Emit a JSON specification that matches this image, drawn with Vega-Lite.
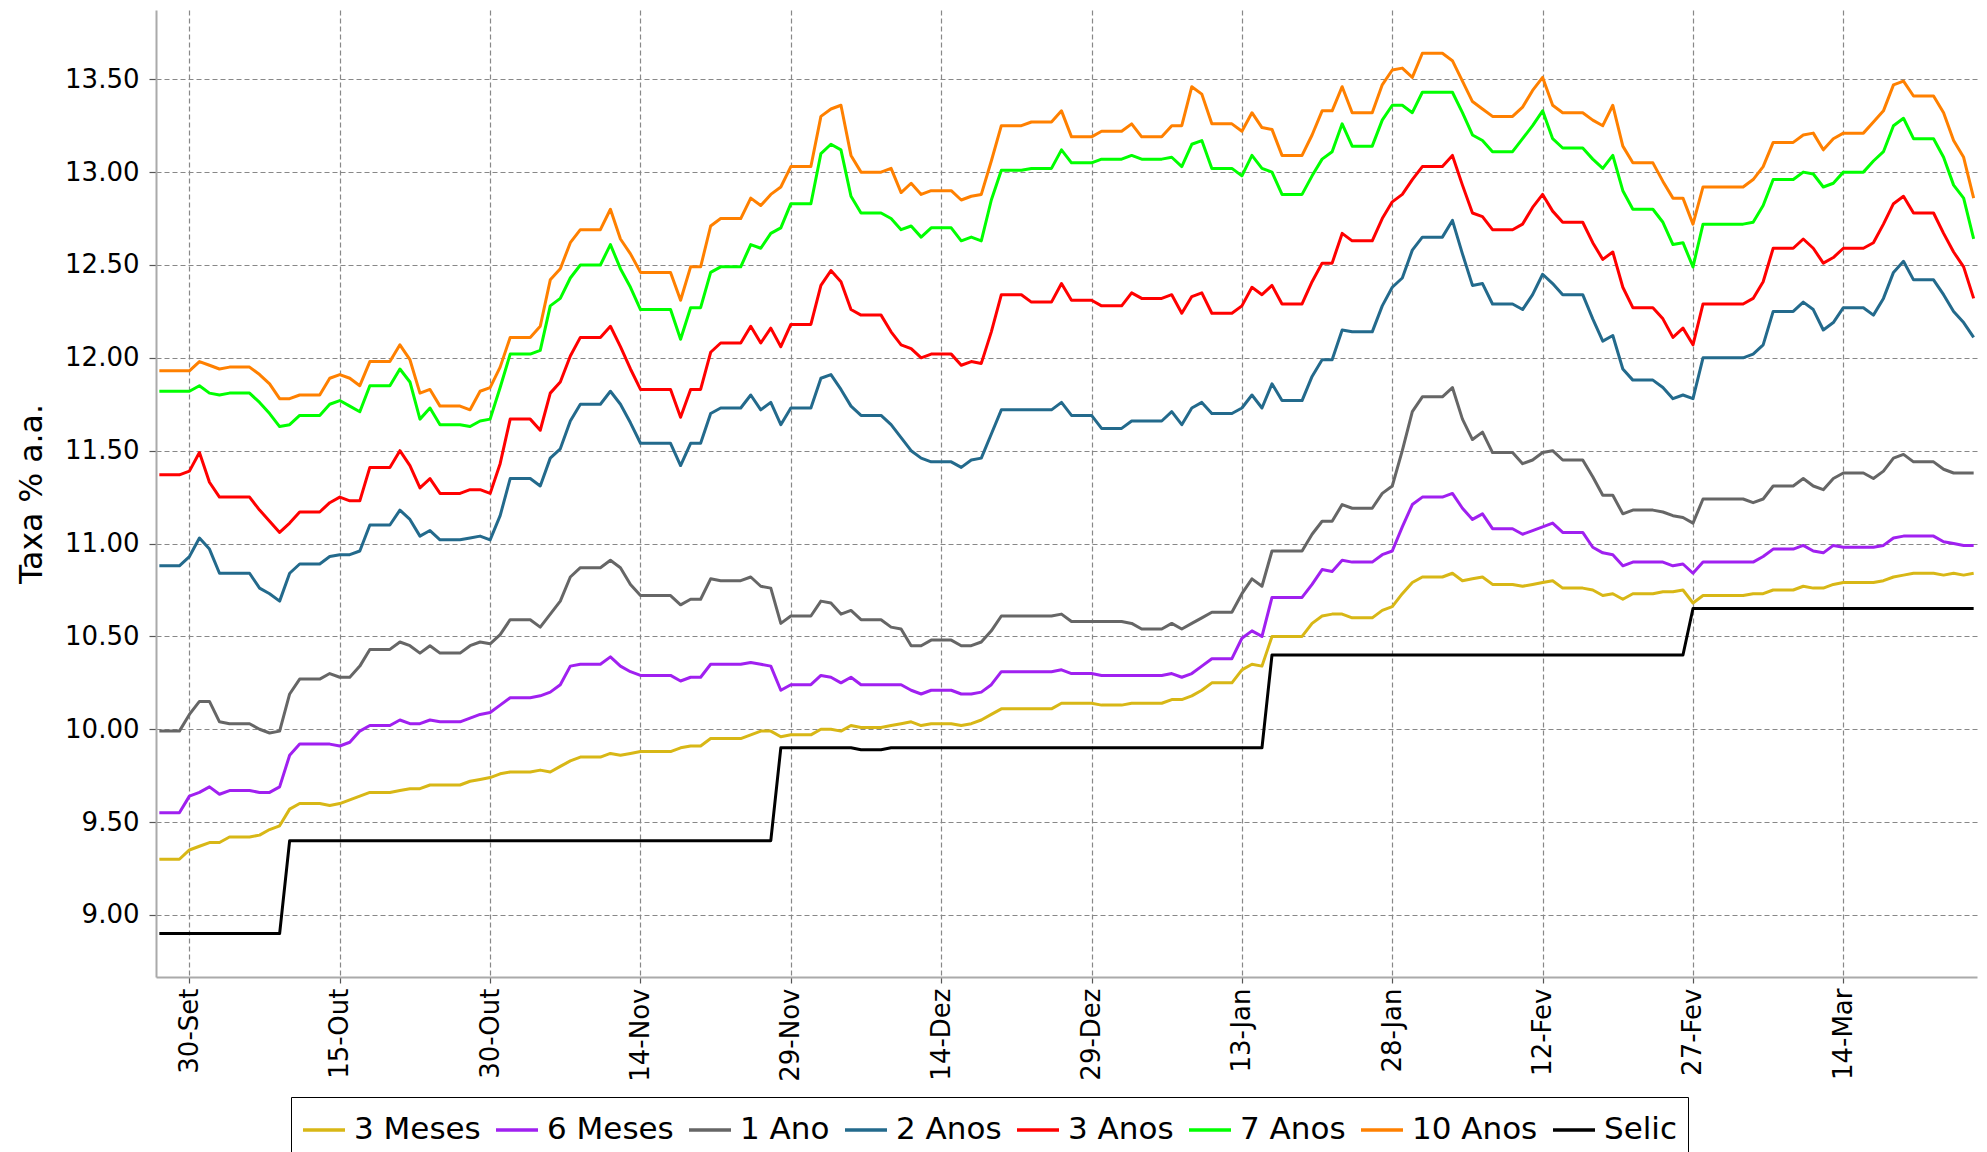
{
"$schema":"https://vega.github.io/schema/vega-lite/v6.json",
"width":1821,"height":967,
"autosize":{"type":"none"},
"padding":{"left":156,"top":10,"right":10,"bottom":175},
"background":"white",
"config":{"font":"DejaVu Sans","view":{"stroke":null}},
"data":{"values":[
{"d":"2013-09-27","3M":9.30,"6M":9.55,"1A":9.99,"2A":10.88,"3A":11.37,"7A":11.82,"10A":11.93,"Selic":8.90},
{"d":"2013-09-28","3M":9.30,"6M":9.55,"1A":9.99,"2A":10.88,"3A":11.37,"7A":11.82,"10A":11.93,"Selic":8.90},
{"d":"2013-09-29","3M":9.30,"6M":9.55,"1A":9.99,"2A":10.88,"3A":11.37,"7A":11.82,"10A":11.93,"Selic":8.90},
{"d":"2013-09-30","3M":9.35,"6M":9.64,"1A":10.08,"2A":10.93,"3A":11.39,"7A":11.82,"10A":11.93,"Selic":8.90},
{"d":"2013-10-01","3M":9.37,"6M":9.66,"1A":10.15,"2A":11.03,"3A":11.49,"7A":11.85,"10A":11.98,"Selic":8.90},
{"d":"2013-10-02","3M":9.39,"6M":9.69,"1A":10.15,"2A":10.97,"3A":11.33,"7A":11.81,"10A":11.96,"Selic":8.90},
{"d":"2013-10-03","3M":9.39,"6M":9.65,"1A":10.04,"2A":10.84,"3A":11.25,"7A":11.80,"10A":11.94,"Selic":8.90},
{"d":"2013-10-04","3M":9.42,"6M":9.67,"1A":10.03,"2A":10.84,"3A":11.25,"7A":11.81,"10A":11.95,"Selic":8.90},
{"d":"2013-10-05","3M":9.42,"6M":9.67,"1A":10.03,"2A":10.84,"3A":11.25,"7A":11.81,"10A":11.95,"Selic":8.90},
{"d":"2013-10-06","3M":9.42,"6M":9.67,"1A":10.03,"2A":10.84,"3A":11.25,"7A":11.81,"10A":11.95,"Selic":8.90},
{"d":"2013-10-07","3M":9.43,"6M":9.66,"1A":10.00,"2A":10.76,"3A":11.18,"7A":11.76,"10A":11.91,"Selic":8.90},
{"d":"2013-10-08","3M":9.46,"6M":9.66,"1A":9.98,"2A":10.73,"3A":11.12,"7A":11.70,"10A":11.86,"Selic":8.90},
{"d":"2013-10-09","3M":9.48,"6M":9.69,"1A":9.99,"2A":10.69,"3A":11.06,"7A":11.63,"10A":11.78,"Selic":8.90},
{"d":"2013-10-10","3M":9.57,"6M":9.86,"1A":10.19,"2A":10.84,"3A":11.11,"7A":11.64,"10A":11.78,"Selic":9.40},
{"d":"2013-10-11","3M":9.60,"6M":9.92,"1A":10.27,"2A":10.89,"3A":11.17,"7A":11.69,"10A":11.80,"Selic":9.40},
{"d":"2013-10-12","3M":9.60,"6M":9.92,"1A":10.27,"2A":10.89,"3A":11.17,"7A":11.69,"10A":11.80,"Selic":9.40},
{"d":"2013-10-13","3M":9.60,"6M":9.92,"1A":10.27,"2A":10.89,"3A":11.17,"7A":11.69,"10A":11.80,"Selic":9.40},
{"d":"2013-10-14","3M":9.59,"6M":9.92,"1A":10.30,"2A":10.93,"3A":11.22,"7A":11.75,"10A":11.89,"Selic":9.40},
{"d":"2013-10-15","3M":9.60,"6M":9.91,"1A":10.28,"2A":10.94,"3A":11.25,"7A":11.77,"10A":11.91,"Selic":9.40},
{"d":"2013-10-16","3M":9.62,"6M":9.93,"1A":10.28,"2A":10.94,"3A":11.23,"7A":11.74,"10A":11.89,"Selic":9.40},
{"d":"2013-10-17","3M":9.64,"6M":9.99,"1A":10.34,"2A":10.96,"3A":11.23,"7A":11.71,"10A":11.85,"Selic":9.40},
{"d":"2013-10-18","3M":9.66,"6M":10.02,"1A":10.43,"2A":11.10,"3A":11.41,"7A":11.85,"10A":11.98,"Selic":9.40},
{"d":"2013-10-19","3M":9.66,"6M":10.02,"1A":10.43,"2A":11.10,"3A":11.41,"7A":11.85,"10A":11.98,"Selic":9.40},
{"d":"2013-10-20","3M":9.66,"6M":10.02,"1A":10.43,"2A":11.10,"3A":11.41,"7A":11.85,"10A":11.98,"Selic":9.40},
{"d":"2013-10-21","3M":9.67,"6M":10.05,"1A":10.47,"2A":11.18,"3A":11.50,"7A":11.94,"10A":12.07,"Selic":9.40},
{"d":"2013-10-22","3M":9.68,"6M":10.03,"1A":10.45,"2A":11.13,"3A":11.42,"7A":11.87,"10A":11.99,"Selic":9.40},
{"d":"2013-10-23","3M":9.68,"6M":10.03,"1A":10.41,"2A":11.04,"3A":11.30,"7A":11.67,"10A":11.81,"Selic":9.40},
{"d":"2013-10-24","3M":9.70,"6M":10.05,"1A":10.45,"2A":11.07,"3A":11.35,"7A":11.73,"10A":11.83,"Selic":9.40},
{"d":"2013-10-25","3M":9.70,"6M":10.04,"1A":10.41,"2A":11.02,"3A":11.27,"7A":11.64,"10A":11.74,"Selic":9.40},
{"d":"2013-10-26","3M":9.70,"6M":10.04,"1A":10.41,"2A":11.02,"3A":11.27,"7A":11.64,"10A":11.74,"Selic":9.40},
{"d":"2013-10-27","3M":9.70,"6M":10.04,"1A":10.41,"2A":11.02,"3A":11.27,"7A":11.64,"10A":11.74,"Selic":9.40},
{"d":"2013-10-28","3M":9.72,"6M":10.06,"1A":10.45,"2A":11.03,"3A":11.29,"7A":11.63,"10A":11.72,"Selic":9.40},
{"d":"2013-10-29","3M":9.73,"6M":10.08,"1A":10.47,"2A":11.04,"3A":11.29,"7A":11.66,"10A":11.82,"Selic":9.40},
{"d":"2013-10-30","3M":9.74,"6M":10.09,"1A":10.46,"2A":11.02,"3A":11.27,"7A":11.67,"10A":11.84,"Selic":9.40},
{"d":"2013-10-31","3M":9.76,"6M":10.13,"1A":10.51,"2A":11.15,"3A":11.43,"7A":11.84,"10A":11.95,"Selic":9.40},
{"d":"2013-11-01","3M":9.77,"6M":10.17,"1A":10.59,"2A":11.35,"3A":11.67,"7A":12.02,"10A":12.11,"Selic":9.40},
{"d":"2013-11-02","3M":9.77,"6M":10.17,"1A":10.59,"2A":11.35,"3A":11.67,"7A":12.02,"10A":12.11,"Selic":9.40},
{"d":"2013-11-03","3M":9.77,"6M":10.17,"1A":10.59,"2A":11.35,"3A":11.67,"7A":12.02,"10A":12.11,"Selic":9.40},
{"d":"2013-11-04","3M":9.78,"6M":10.18,"1A":10.55,"2A":11.31,"3A":11.61,"7A":12.04,"10A":12.17,"Selic":9.40},
{"d":"2013-11-05","3M":9.77,"6M":10.20,"1A":10.62,"2A":11.46,"3A":11.81,"7A":12.28,"10A":12.42,"Selic":9.40},
{"d":"2013-11-06","3M":9.80,"6M":10.24,"1A":10.69,"2A":11.51,"3A":11.87,"7A":12.32,"10A":12.48,"Selic":9.40},
{"d":"2013-11-07","3M":9.83,"6M":10.34,"1A":10.82,"2A":11.66,"3A":12.01,"7A":12.43,"10A":12.62,"Selic":9.40},
{"d":"2013-11-08","3M":9.85,"6M":10.35,"1A":10.87,"2A":11.75,"3A":12.11,"7A":12.50,"10A":12.69,"Selic":9.40},
{"d":"2013-11-09","3M":9.85,"6M":10.35,"1A":10.87,"2A":11.75,"3A":12.11,"7A":12.50,"10A":12.69,"Selic":9.40},
{"d":"2013-11-10","3M":9.85,"6M":10.35,"1A":10.87,"2A":11.75,"3A":12.11,"7A":12.50,"10A":12.69,"Selic":9.40},
{"d":"2013-11-11","3M":9.87,"6M":10.39,"1A":10.91,"2A":11.82,"3A":12.17,"7A":12.61,"10A":12.80,"Selic":9.40},
{"d":"2013-11-12","3M":9.86,"6M":10.34,"1A":10.87,"2A":11.75,"3A":12.06,"7A":12.48,"10A":12.64,"Selic":9.40},
{"d":"2013-11-13","3M":9.87,"6M":10.31,"1A":10.78,"2A":11.65,"3A":11.94,"7A":12.38,"10A":12.56,"Selic":9.40},
{"d":"2013-11-14","3M":9.88,"6M":10.29,"1A":10.72,"2A":11.54,"3A":11.83,"7A":12.26,"10A":12.46,"Selic":9.40},
{"d":"2013-11-15","3M":9.88,"6M":10.29,"1A":10.72,"2A":11.54,"3A":11.83,"7A":12.26,"10A":12.46,"Selic":9.40},
{"d":"2013-11-16","3M":9.88,"6M":10.29,"1A":10.72,"2A":11.54,"3A":11.83,"7A":12.26,"10A":12.46,"Selic":9.40},
{"d":"2013-11-17","3M":9.88,"6M":10.29,"1A":10.72,"2A":11.54,"3A":11.83,"7A":12.26,"10A":12.46,"Selic":9.40},
{"d":"2013-11-18","3M":9.90,"6M":10.26,"1A":10.67,"2A":11.42,"3A":11.68,"7A":12.10,"10A":12.31,"Selic":9.40},
{"d":"2013-11-19","3M":9.91,"6M":10.28,"1A":10.70,"2A":11.54,"3A":11.83,"7A":12.27,"10A":12.49,"Selic":9.40},
{"d":"2013-11-20","3M":9.91,"6M":10.28,"1A":10.70,"2A":11.54,"3A":11.83,"7A":12.27,"10A":12.49,"Selic":9.40},
{"d":"2013-11-21","3M":9.95,"6M":10.35,"1A":10.81,"2A":11.70,"3A":12.03,"7A":12.46,"10A":12.71,"Selic":9.40},
{"d":"2013-11-22","3M":9.95,"6M":10.35,"1A":10.80,"2A":11.73,"3A":12.08,"7A":12.49,"10A":12.75,"Selic":9.40},
{"d":"2013-11-23","3M":9.95,"6M":10.35,"1A":10.80,"2A":11.73,"3A":12.08,"7A":12.49,"10A":12.75,"Selic":9.40},
{"d":"2013-11-24","3M":9.95,"6M":10.35,"1A":10.80,"2A":11.73,"3A":12.08,"7A":12.49,"10A":12.75,"Selic":9.40},
{"d":"2013-11-25","3M":9.97,"6M":10.36,"1A":10.82,"2A":11.80,"3A":12.17,"7A":12.61,"10A":12.86,"Selic":9.40},
{"d":"2013-11-26","3M":9.99,"6M":10.35,"1A":10.77,"2A":11.72,"3A":12.08,"7A":12.59,"10A":12.82,"Selic":9.40},
{"d":"2013-11-27","3M":9.99,"6M":10.34,"1A":10.76,"2A":11.76,"3A":12.16,"7A":12.67,"10A":12.88,"Selic":9.40},
{"d":"2013-11-28","3M":9.96,"6M":10.21,"1A":10.57,"2A":11.64,"3A":12.06,"7A":12.70,"10A":12.92,"Selic":9.90},
{"d":"2013-11-29","3M":9.97,"6M":10.24,"1A":10.61,"2A":11.73,"3A":12.18,"7A":12.83,"10A":13.03,"Selic":9.90},
{"d":"2013-11-30","3M":9.97,"6M":10.24,"1A":10.61,"2A":11.73,"3A":12.18,"7A":12.83,"10A":13.03,"Selic":9.90},
{"d":"2013-12-01","3M":9.97,"6M":10.24,"1A":10.61,"2A":11.73,"3A":12.18,"7A":12.83,"10A":13.03,"Selic":9.90},
{"d":"2013-12-02","3M":10.00,"6M":10.29,"1A":10.69,"2A":11.89,"3A":12.39,"7A":13.10,"10A":13.30,"Selic":9.90},
{"d":"2013-12-03","3M":10.00,"6M":10.28,"1A":10.68,"2A":11.91,"3A":12.47,"7A":13.15,"10A":13.34,"Selic":9.90},
{"d":"2013-12-04","3M":9.99,"6M":10.25,"1A":10.62,"2A":11.83,"3A":12.41,"7A":13.12,"10A":13.36,"Selic":9.90},
{"d":"2013-12-05","3M":10.02,"6M":10.28,"1A":10.64,"2A":11.74,"3A":12.26,"7A":12.87,"10A":13.09,"Selic":9.90},
{"d":"2013-12-06","3M":10.01,"6M":10.24,"1A":10.59,"2A":11.69,"3A":12.23,"7A":12.78,"10A":13.00,"Selic":9.89},
{"d":"2013-12-07","3M":10.01,"6M":10.24,"1A":10.59,"2A":11.69,"3A":12.23,"7A":12.78,"10A":13.00,"Selic":9.89},
{"d":"2013-12-08","3M":10.01,"6M":10.24,"1A":10.59,"2A":11.69,"3A":12.23,"7A":12.78,"10A":13.00,"Selic":9.89},
{"d":"2013-12-09","3M":10.02,"6M":10.24,"1A":10.55,"2A":11.64,"3A":12.14,"7A":12.75,"10A":13.02,"Selic":9.90},
{"d":"2013-12-10","3M":10.03,"6M":10.24,"1A":10.54,"2A":11.57,"3A":12.07,"7A":12.69,"10A":12.89,"Selic":9.90},
{"d":"2013-12-11","3M":10.04,"6M":10.21,"1A":10.45,"2A":11.50,"3A":12.05,"7A":12.71,"10A":12.94,"Selic":9.90},
{"d":"2013-12-12","3M":10.02,"6M":10.19,"1A":10.45,"2A":11.46,"3A":12.00,"7A":12.65,"10A":12.88,"Selic":9.90},
{"d":"2013-12-13","3M":10.03,"6M":10.21,"1A":10.48,"2A":11.44,"3A":12.02,"7A":12.70,"10A":12.90,"Selic":9.90},
{"d":"2013-12-14","3M":10.03,"6M":10.21,"1A":10.48,"2A":11.44,"3A":12.02,"7A":12.70,"10A":12.90,"Selic":9.90},
{"d":"2013-12-15","3M":10.03,"6M":10.21,"1A":10.48,"2A":11.44,"3A":12.02,"7A":12.70,"10A":12.90,"Selic":9.90},
{"d":"2013-12-16","3M":10.02,"6M":10.19,"1A":10.45,"2A":11.41,"3A":11.96,"7A":12.63,"10A":12.85,"Selic":9.90},
{"d":"2013-12-17","3M":10.03,"6M":10.19,"1A":10.45,"2A":11.45,"3A":11.98,"7A":12.65,"10A":12.87,"Selic":9.90},
{"d":"2013-12-18","3M":10.05,"6M":10.20,"1A":10.47,"2A":11.46,"3A":11.97,"7A":12.63,"10A":12.88,"Selic":9.90},
{"d":"2013-12-19","3M":10.08,"6M":10.24,"1A":10.53,"2A":11.59,"3A":12.14,"7A":12.85,"10A":13.06,"Selic":9.90},
{"d":"2013-12-20","3M":10.11,"6M":10.31,"1A":10.61,"2A":11.72,"3A":12.34,"7A":13.01,"10A":13.25,"Selic":9.90},
{"d":"2013-12-21","3M":10.11,"6M":10.31,"1A":10.61,"2A":11.72,"3A":12.34,"7A":13.01,"10A":13.25,"Selic":9.90},
{"d":"2013-12-22","3M":10.11,"6M":10.31,"1A":10.61,"2A":11.72,"3A":12.34,"7A":13.01,"10A":13.25,"Selic":9.90},
{"d":"2013-12-23","3M":10.11,"6M":10.31,"1A":10.61,"2A":11.72,"3A":12.30,"7A":13.02,"10A":13.27,"Selic":9.90},
{"d":"2013-12-24","3M":10.11,"6M":10.31,"1A":10.61,"2A":11.72,"3A":12.30,"7A":13.02,"10A":13.27,"Selic":9.90},
{"d":"2013-12-25","3M":10.11,"6M":10.31,"1A":10.61,"2A":11.72,"3A":12.30,"7A":13.02,"10A":13.27,"Selic":9.90},
{"d":"2013-12-26","3M":10.14,"6M":10.32,"1A":10.62,"2A":11.76,"3A":12.40,"7A":13.12,"10A":13.33,"Selic":9.90},
{"d":"2013-12-27","3M":10.14,"6M":10.30,"1A":10.58,"2A":11.69,"3A":12.31,"7A":13.05,"10A":13.19,"Selic":9.90},
{"d":"2013-12-28","3M":10.14,"6M":10.30,"1A":10.58,"2A":11.69,"3A":12.31,"7A":13.05,"10A":13.19,"Selic":9.90},
{"d":"2013-12-29","3M":10.14,"6M":10.30,"1A":10.58,"2A":11.69,"3A":12.31,"7A":13.05,"10A":13.19,"Selic":9.90},
{"d":"2013-12-30","3M":10.13,"6M":10.29,"1A":10.58,"2A":11.62,"3A":12.28,"7A":13.07,"10A":13.22,"Selic":9.90},
{"d":"2013-12-31","3M":10.13,"6M":10.29,"1A":10.58,"2A":11.62,"3A":12.28,"7A":13.07,"10A":13.22,"Selic":9.90},
{"d":"2014-01-01","3M":10.13,"6M":10.29,"1A":10.58,"2A":11.62,"3A":12.28,"7A":13.07,"10A":13.22,"Selic":9.90},
{"d":"2014-01-02","3M":10.14,"6M":10.29,"1A":10.57,"2A":11.66,"3A":12.35,"7A":13.09,"10A":13.26,"Selic":9.90},
{"d":"2014-01-03","3M":10.14,"6M":10.29,"1A":10.54,"2A":11.66,"3A":12.32,"7A":13.07,"10A":13.19,"Selic":9.90},
{"d":"2014-01-04","3M":10.14,"6M":10.29,"1A":10.54,"2A":11.66,"3A":12.32,"7A":13.07,"10A":13.19,"Selic":9.90},
{"d":"2014-01-05","3M":10.14,"6M":10.29,"1A":10.54,"2A":11.66,"3A":12.32,"7A":13.07,"10A":13.19,"Selic":9.90},
{"d":"2014-01-06","3M":10.16,"6M":10.30,"1A":10.57,"2A":11.71,"3A":12.34,"7A":13.08,"10A":13.25,"Selic":9.90},
{"d":"2014-01-07","3M":10.16,"6M":10.28,"1A":10.54,"2A":11.64,"3A":12.24,"7A":13.03,"10A":13.25,"Selic":9.90},
{"d":"2014-01-08","3M":10.18,"6M":10.30,"1A":10.57,"2A":11.73,"3A":12.33,"7A":13.15,"10A":13.46,"Selic":9.90},
{"d":"2014-01-09","3M":10.21,"6M":10.34,"1A":10.60,"2A":11.76,"3A":12.35,"7A":13.17,"10A":13.42,"Selic":9.90},
{"d":"2014-01-10","3M":10.25,"6M":10.38,"1A":10.63,"2A":11.70,"3A":12.24,"7A":13.02,"10A":13.26,"Selic":9.90},
{"d":"2014-01-11","3M":10.25,"6M":10.38,"1A":10.63,"2A":11.70,"3A":12.24,"7A":13.02,"10A":13.26,"Selic":9.90},
{"d":"2014-01-12","3M":10.25,"6M":10.38,"1A":10.63,"2A":11.70,"3A":12.24,"7A":13.02,"10A":13.26,"Selic":9.90},
{"d":"2014-01-13","3M":10.32,"6M":10.49,"1A":10.73,"2A":11.73,"3A":12.28,"7A":12.98,"10A":13.22,"Selic":9.90},
{"d":"2014-01-14","3M":10.35,"6M":10.53,"1A":10.81,"2A":11.80,"3A":12.38,"7A":13.09,"10A":13.32,"Selic":9.90},
{"d":"2014-01-15","3M":10.34,"6M":10.50,"1A":10.77,"2A":11.73,"3A":12.34,"7A":13.02,"10A":13.24,"Selic":9.90},
{"d":"2014-01-16","3M":10.50,"6M":10.71,"1A":10.96,"2A":11.86,"3A":12.39,"7A":13.00,"10A":13.23,"Selic":10.40},
{"d":"2014-01-17","3M":10.50,"6M":10.71,"1A":10.96,"2A":11.77,"3A":12.29,"7A":12.88,"10A":13.09,"Selic":10.40},
{"d":"2014-01-18","3M":10.50,"6M":10.71,"1A":10.96,"2A":11.77,"3A":12.29,"7A":12.88,"10A":13.09,"Selic":10.40},
{"d":"2014-01-19","3M":10.50,"6M":10.71,"1A":10.96,"2A":11.77,"3A":12.29,"7A":12.88,"10A":13.09,"Selic":10.40},
{"d":"2014-01-20","3M":10.57,"6M":10.78,"1A":11.05,"2A":11.90,"3A":12.41,"7A":12.98,"10A":13.20,"Selic":10.40},
{"d":"2014-01-21","3M":10.61,"6M":10.86,"1A":11.12,"2A":11.99,"3A":12.51,"7A":13.07,"10A":13.33,"Selic":10.40},
{"d":"2014-01-22","3M":10.62,"6M":10.85,"1A":11.12,"2A":11.99,"3A":12.51,"7A":13.11,"10A":13.33,"Selic":10.40},
{"d":"2014-01-23","3M":10.62,"6M":10.91,"1A":11.21,"2A":12.15,"3A":12.67,"7A":13.26,"10A":13.46,"Selic":10.40},
{"d":"2014-01-24","3M":10.60,"6M":10.90,"1A":11.19,"2A":12.14,"3A":12.63,"7A":13.14,"10A":13.32,"Selic":10.40},
{"d":"2014-01-25","3M":10.60,"6M":10.90,"1A":11.19,"2A":12.14,"3A":12.63,"7A":13.14,"10A":13.32,"Selic":10.40},
{"d":"2014-01-26","3M":10.60,"6M":10.90,"1A":11.19,"2A":12.14,"3A":12.63,"7A":13.14,"10A":13.32,"Selic":10.40},
{"d":"2014-01-27","3M":10.64,"6M":10.94,"1A":11.27,"2A":12.28,"3A":12.75,"7A":13.28,"10A":13.47,"Selic":10.40},
{"d":"2014-01-28","3M":10.66,"6M":10.96,"1A":11.31,"2A":12.38,"3A":12.84,"7A":13.36,"10A":13.55,"Selic":10.40},
{"d":"2014-01-29","3M":10.73,"6M":11.09,"1A":11.50,"2A":12.43,"3A":12.88,"7A":13.36,"10A":13.56,"Selic":10.40},
{"d":"2014-01-30","3M":10.79,"6M":11.21,"1A":11.71,"2A":12.58,"3A":12.96,"7A":13.32,"10A":13.51,"Selic":10.40},
{"d":"2014-01-31","3M":10.82,"6M":11.25,"1A":11.79,"2A":12.65,"3A":13.03,"7A":13.43,"10A":13.64,"Selic":10.40},
{"d":"2014-02-01","3M":10.82,"6M":11.25,"1A":11.79,"2A":12.65,"3A":13.03,"7A":13.43,"10A":13.64,"Selic":10.40},
{"d":"2014-02-02","3M":10.82,"6M":11.25,"1A":11.79,"2A":12.65,"3A":13.03,"7A":13.43,"10A":13.64,"Selic":10.40},
{"d":"2014-02-03","3M":10.84,"6M":11.27,"1A":11.84,"2A":12.74,"3A":13.09,"7A":13.43,"10A":13.60,"Selic":10.40},
{"d":"2014-02-04","3M":10.80,"6M":11.19,"1A":11.67,"2A":12.56,"3A":12.93,"7A":13.32,"10A":13.49,"Selic":10.40},
{"d":"2014-02-05","3M":10.81,"6M":11.13,"1A":11.56,"2A":12.39,"3A":12.78,"7A":13.20,"10A":13.38,"Selic":10.40},
{"d":"2014-02-06","3M":10.82,"6M":11.16,"1A":11.60,"2A":12.40,"3A":12.76,"7A":13.17,"10A":13.34,"Selic":10.40},
{"d":"2014-02-07","3M":10.78,"6M":11.08,"1A":11.49,"2A":12.29,"3A":12.69,"7A":13.11,"10A":13.30,"Selic":10.40},
{"d":"2014-02-08","3M":10.78,"6M":11.08,"1A":11.49,"2A":12.29,"3A":12.69,"7A":13.11,"10A":13.30,"Selic":10.40},
{"d":"2014-02-09","3M":10.78,"6M":11.08,"1A":11.49,"2A":12.29,"3A":12.69,"7A":13.11,"10A":13.30,"Selic":10.40},
{"d":"2014-02-10","3M":10.77,"6M":11.05,"1A":11.43,"2A":12.26,"3A":12.72,"7A":13.18,"10A":13.35,"Selic":10.40},
{"d":"2014-02-11","3M":10.78,"6M":11.07,"1A":11.45,"2A":12.34,"3A":12.81,"7A":13.25,"10A":13.44,"Selic":10.40},
{"d":"2014-02-12","3M":10.79,"6M":11.09,"1A":11.49,"2A":12.45,"3A":12.88,"7A":13.33,"10A":13.51,"Selic":10.40},
{"d":"2014-02-13","3M":10.80,"6M":11.11,"1A":11.50,"2A":12.40,"3A":12.79,"7A":13.18,"10A":13.36,"Selic":10.40},
{"d":"2014-02-14","3M":10.76,"6M":11.06,"1A":11.45,"2A":12.34,"3A":12.73,"7A":13.13,"10A":13.32,"Selic":10.40},
{"d":"2014-02-15","3M":10.76,"6M":11.06,"1A":11.45,"2A":12.34,"3A":12.73,"7A":13.13,"10A":13.32,"Selic":10.40},
{"d":"2014-02-16","3M":10.76,"6M":11.06,"1A":11.45,"2A":12.34,"3A":12.73,"7A":13.13,"10A":13.32,"Selic":10.40},
{"d":"2014-02-17","3M":10.75,"6M":10.98,"1A":11.36,"2A":12.21,"3A":12.62,"7A":13.07,"10A":13.28,"Selic":10.40},
{"d":"2014-02-18","3M":10.72,"6M":10.95,"1A":11.26,"2A":12.09,"3A":12.53,"7A":13.02,"10A":13.25,"Selic":10.40},
{"d":"2014-02-19","3M":10.73,"6M":10.94,"1A":11.26,"2A":12.12,"3A":12.57,"7A":13.09,"10A":13.36,"Selic":10.40},
{"d":"2014-02-20","3M":10.70,"6M":10.88,"1A":11.16,"2A":11.94,"3A":12.38,"7A":12.90,"10A":13.14,"Selic":10.40},
{"d":"2014-02-21","3M":10.73,"6M":10.90,"1A":11.18,"2A":11.88,"3A":12.27,"7A":12.80,"10A":13.05,"Selic":10.40},
{"d":"2014-02-22","3M":10.73,"6M":10.90,"1A":11.18,"2A":11.88,"3A":12.27,"7A":12.80,"10A":13.05,"Selic":10.40},
{"d":"2014-02-23","3M":10.73,"6M":10.90,"1A":11.18,"2A":11.88,"3A":12.27,"7A":12.80,"10A":13.05,"Selic":10.40},
{"d":"2014-02-24","3M":10.74,"6M":10.90,"1A":11.17,"2A":11.84,"3A":12.21,"7A":12.73,"10A":12.95,"Selic":10.40},
{"d":"2014-02-25","3M":10.74,"6M":10.88,"1A":11.15,"2A":11.78,"3A":12.11,"7A":12.61,"10A":12.86,"Selic":10.40},
{"d":"2014-02-26","3M":10.75,"6M":10.89,"1A":11.14,"2A":11.80,"3A":12.16,"7A":12.62,"10A":12.86,"Selic":10.40},
{"d":"2014-02-27","3M":10.68,"6M":10.84,"1A":11.11,"2A":11.78,"3A":12.07,"7A":12.49,"10A":12.72,"Selic":10.65},
{"d":"2014-02-28","3M":10.72,"6M":10.90,"1A":11.24,"2A":12.00,"3A":12.29,"7A":12.72,"10A":12.92,"Selic":10.65},
{"d":"2014-03-01","3M":10.72,"6M":10.90,"1A":11.24,"2A":12.00,"3A":12.29,"7A":12.72,"10A":12.92,"Selic":10.65},
{"d":"2014-03-02","3M":10.72,"6M":10.90,"1A":11.24,"2A":12.00,"3A":12.29,"7A":12.72,"10A":12.92,"Selic":10.65},
{"d":"2014-03-03","3M":10.72,"6M":10.90,"1A":11.24,"2A":12.00,"3A":12.29,"7A":12.72,"10A":12.92,"Selic":10.65},
{"d":"2014-03-04","3M":10.72,"6M":10.90,"1A":11.24,"2A":12.00,"3A":12.29,"7A":12.72,"10A":12.92,"Selic":10.65},
{"d":"2014-03-05","3M":10.73,"6M":10.90,"1A":11.22,"2A":12.02,"3A":12.32,"7A":12.73,"10A":12.96,"Selic":10.65},
{"d":"2014-03-06","3M":10.73,"6M":10.93,"1A":11.24,"2A":12.07,"3A":12.41,"7A":12.82,"10A":13.03,"Selic":10.65},
{"d":"2014-03-07","3M":10.75,"6M":10.97,"1A":11.31,"2A":12.25,"3A":12.59,"7A":12.96,"10A":13.16,"Selic":10.65},
{"d":"2014-03-08","3M":10.75,"6M":10.97,"1A":11.31,"2A":12.25,"3A":12.59,"7A":12.96,"10A":13.16,"Selic":10.65},
{"d":"2014-03-09","3M":10.75,"6M":10.97,"1A":11.31,"2A":12.25,"3A":12.59,"7A":12.96,"10A":13.16,"Selic":10.65},
{"d":"2014-03-10","3M":10.77,"6M":10.99,"1A":11.35,"2A":12.30,"3A":12.64,"7A":13.00,"10A":13.20,"Selic":10.65},
{"d":"2014-03-11","3M":10.76,"6M":10.96,"1A":11.31,"2A":12.26,"3A":12.59,"7A":12.99,"10A":13.21,"Selic":10.65},
{"d":"2014-03-12","3M":10.76,"6M":10.95,"1A":11.29,"2A":12.15,"3A":12.51,"7A":12.92,"10A":13.12,"Selic":10.65},
{"d":"2014-03-13","3M":10.78,"6M":10.99,"1A":11.35,"2A":12.19,"3A":12.54,"7A":12.94,"10A":13.18,"Selic":10.65},
{"d":"2014-03-14","3M":10.79,"6M":10.98,"1A":11.38,"2A":12.27,"3A":12.59,"7A":13.00,"10A":13.21,"Selic":10.65},
{"d":"2014-03-15","3M":10.79,"6M":10.98,"1A":11.38,"2A":12.27,"3A":12.59,"7A":13.00,"10A":13.21,"Selic":10.65},
{"d":"2014-03-16","3M":10.79,"6M":10.98,"1A":11.38,"2A":12.27,"3A":12.59,"7A":13.00,"10A":13.21,"Selic":10.65},
{"d":"2014-03-17","3M":10.79,"6M":10.98,"1A":11.35,"2A":12.23,"3A":12.62,"7A":13.06,"10A":13.27,"Selic":10.65},
{"d":"2014-03-18","3M":10.80,"6M":10.99,"1A":11.39,"2A":12.32,"3A":12.72,"7A":13.11,"10A":13.33,"Selic":10.65},
{"d":"2014-03-19","3M":10.82,"6M":11.03,"1A":11.46,"2A":12.46,"3A":12.83,"7A":13.25,"10A":13.47,"Selic":10.65},
{"d":"2014-03-20","3M":10.83,"6M":11.04,"1A":11.48,"2A":12.52,"3A":12.87,"7A":13.29,"10A":13.49,"Selic":10.65},
{"d":"2014-03-21","3M":10.84,"6M":11.04,"1A":11.44,"2A":12.42,"3A":12.78,"7A":13.18,"10A":13.41,"Selic":10.65},
{"d":"2014-03-22","3M":10.84,"6M":11.04,"1A":11.44,"2A":12.42,"3A":12.78,"7A":13.18,"10A":13.41,"Selic":10.65},
{"d":"2014-03-23","3M":10.84,"6M":11.04,"1A":11.44,"2A":12.42,"3A":12.78,"7A":13.18,"10A":13.41,"Selic":10.65},
{"d":"2014-03-24","3M":10.83,"6M":11.01,"1A":11.40,"2A":12.34,"3A":12.67,"7A":13.08,"10A":13.32,"Selic":10.65},
{"d":"2014-03-25","3M":10.84,"6M":11.00,"1A":11.38,"2A":12.25,"3A":12.57,"7A":12.93,"10A":13.17,"Selic":10.65},
{"d":"2014-03-26","3M":10.83,"6M":10.99,"1A":11.38,"2A":12.19,"3A":12.49,"7A":12.86,"10A":13.08,"Selic":10.65},
{"d":"2014-03-27","3M":10.84,"6M":10.99,"1A":11.38,"2A":12.11,"3A":12.32,"7A":12.64,"10A":12.86,"Selic":10.65}
]},
"transform":[{"fold":["3M","6M","1A","2A","3A","7A","10A","Selic"],"as":["serie","taxa"]}],
"mark":{"type":"line","strokeWidth":3,"strokeJoin":"round","clip":true},
"encoding":{
"x":{"field":"d","type":"temporal",
 "scale":{"type":"utc","domain":[{"year":2013,"month":9,"date":26,"hours":16,"utc":true},{"year":2014,"month":3,"date":27,"hours":8,"utc":true}]},
 "axis":{"title":null,
  "values":[{"year":2013,"month":9,"date":30,"utc":true},{"year":2013,"month":10,"date":15,"utc":true},{"year":2013,"month":10,"date":30,"utc":true},{"year":2013,"month":11,"date":14,"utc":true},{"year":2013,"month":11,"date":29,"utc":true},{"year":2013,"month":12,"date":14,"utc":true},{"year":2013,"month":12,"date":29,"utc":true},{"year":2014,"month":1,"date":13,"utc":true},{"year":2014,"month":1,"date":28,"utc":true},{"year":2014,"month":2,"date":12,"utc":true},{"year":2014,"month":2,"date":27,"utc":true},{"year":2014,"month":3,"date":14,"utc":true}],
  "labelExpr":"utcFormat(datum.value,'%d')+'-'+['Jan','Fev','Mar','Abr','Mai','Jun','Jul','Ago','Set','Out','Nov','Dez'][utcmonth(datum.value)]",
  "labelAngle":270,"labelAlign":"right","labelBaseline":"middle","labelFontSize":26,"labelColor":"black","labelPadding":5,"labelOverlap":false,
  "tickSize":6,"tickColor":"#555555","tickWidth":1.2,
  "domainColor":"#aaaaaa","domainWidth":2,
  "grid":true,"gridColor":"#888888","gridDash":[5,3],"gridWidth":1.2}},
"y":{"field":"taxa","type":"quantitative",
 "scale":{"domain":[8.666,13.873],"nice":false,"zero":false},
 "axis":{"title":"Taxa % a.a.","values":[9,9.5,10,10.5,11,11.5,12,12.5,13,13.5],"format":".2f",
  "labelFontSize":26,"labelColor":"black","labelPadding":10,"tickSize":7,"tickColor":"#555555","tickWidth":1.2,
  "domainColor":"#aaaaaa","domainWidth":2,
  "titleFontSize":31.5,"titleFontWeight":"normal","titleColor":"black","titleX":-124,"titleY":483.5,"titleAngle":270,"titleAlign":"center","titleBaseline":"middle",
  "grid":true,"gridColor":"#888888","gridDash":[5,3],"gridWidth":1.2}},
"color":{"field":"serie","type":"nominal",
 "scale":{"domain":["3M","6M","1A","2A","3A","7A","10A","Selic"],"range":["#d8b716","#a020f0","#666666","#236a8c","#ff0000","#00ff00","#ff8000","#000000"]},
 "legend":{"title":null,"orient":"none","legendX":135,"legendY":1087,"direction":"horizontal","columns":8,
  "symbolType":"stroke","symbolSize":1764,"symbolStrokeWidth":3.5,
  "labelFontSize":31,"labelColor":"black","labelOffset":7,"columnPadding":8,"padding":10,
  "strokeColor":"black","fillColor":"white",
  "labelExpr":"{'3M':'3 Meses','6M':'6 Meses','1A':'1 Ano','2A':'2 Anos','3A':'3 Anos','7A':'7 Anos','10A':'10 Anos','Selic':'Selic'}[datum.label]"}}
}
}
